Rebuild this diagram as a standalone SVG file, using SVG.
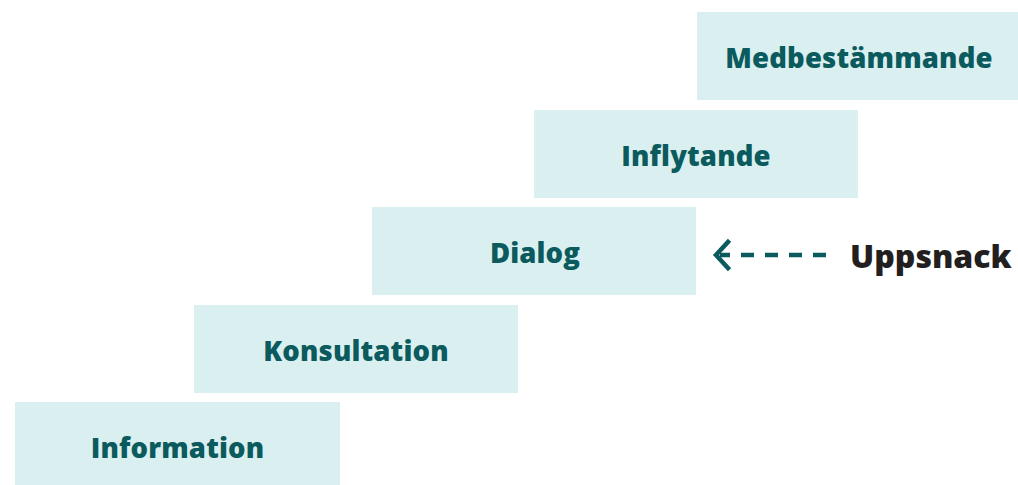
<svg xmlns="http://www.w3.org/2000/svg" width="1018" height="485" viewBox="0 0 1018 485">
<defs>
<style>
.box{fill:#daeff0}
.lbl{font-family:"Open Sans","Noto Sans","Liberation Sans",sans-serif;font-weight:800;font-size:27.5px;fill:#0b5a5d;text-anchor:middle;letter-spacing:0.15px}
.side{font-family:"Open Sans","Noto Sans","Liberation Sans",sans-serif;font-weight:800;font-size:32px;fill:#231f20}
.conn{stroke:#0b5a5d;stroke-width:4.5;fill:none}
</style>
</defs>
<rect width="1018" height="485" fill="#ffffff"/>
<g id="node-information"><rect class="box" x="15" y="402" width="325" height="90"/><text class="lbl" x="177.5" y="458">Information</text></g>
<g id="node-konsultation"><rect class="box" x="194" y="305" width="324" height="88"/><text class="lbl" x="356" y="361">Konsultation</text></g>
<g id="node-dialog"><rect class="box" x="372" y="207" width="324" height="88"/><text class="lbl" x="535" y="263">Dialog</text></g>
<g id="node-inflytande"><rect class="box" x="534" y="110" width="324" height="88"/><text class="lbl" x="696" y="166">Inflytande</text></g>
<g id="node-medbestammande"><rect class="box" x="697" y="12" width="324" height="88"/><text class="lbl" x="859" y="68">Medbestämmande</text></g>
<g id="node-uppsnack"><text class="side" x="850" y="268">Uppsnack</text></g>
<g id="connectors">
<path class="conn" d="M826 255 H720" stroke-dasharray="13 11"/>
<path class="conn" d="M728 242 L716 255 L728 268" stroke-width="5" stroke-linecap="square"/>
</g>
</svg>
